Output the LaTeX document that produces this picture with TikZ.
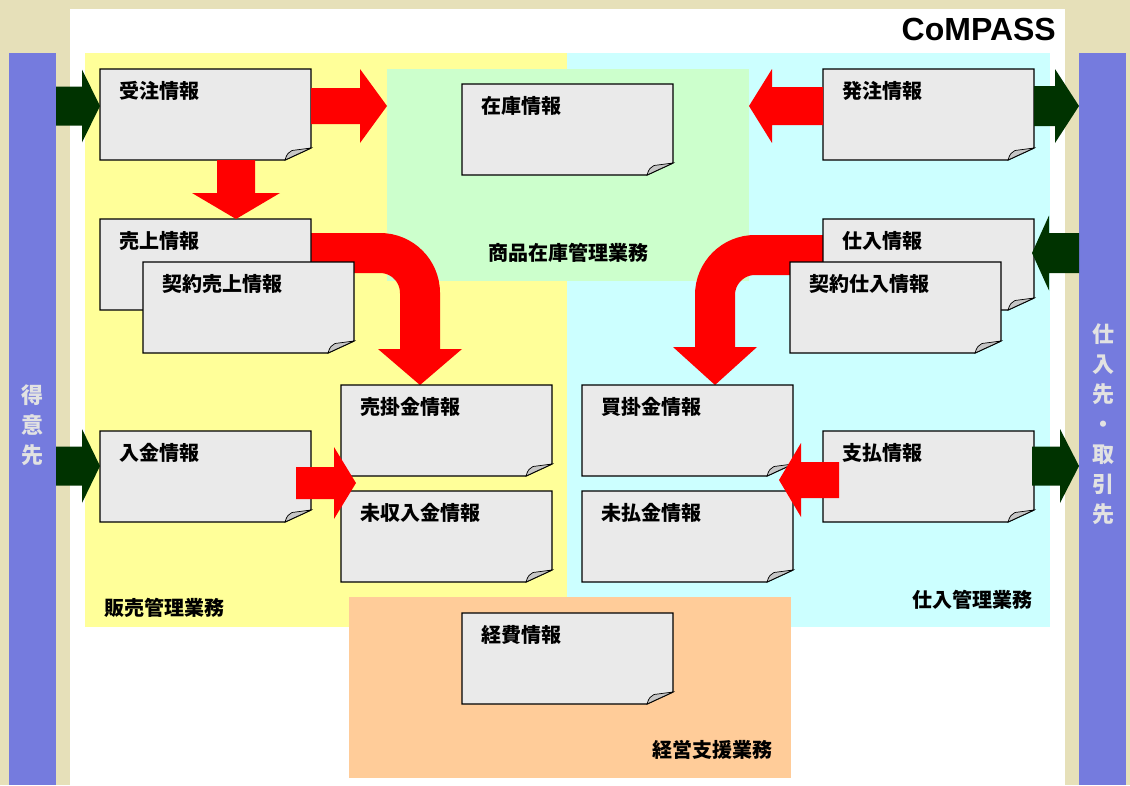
\documentclass[tikz,border=0pt]{standalone}
\usepackage{fontspec}
\setmainfont{Noto Sans CJK JP}
\newfontfamily\latinfont{Liberation Sans}
\usetikzlibrary{calc}

\definecolor{beige}{RGB}{230,224,185}
\definecolor{barblue}{RGB}{117,123,222}
\definecolor{sidegray}{RGB}{226,226,226}
\definecolor{salesyellow}{RGB}{255,255,153}
\definecolor{buycyan}{RGB}{204,255,255}
\definecolor{stockgreen}{RGB}{204,255,204}
\definecolor{mgmtorange}{RGB}{255,204,153}
\definecolor{docgray}{RGB}{234,234,234}
\definecolor{darkgreen}{RGB}{0,51,0}

\pgfdeclarelayer{areas}
\pgfdeclarelayer{flow}
\pgfsetlayers{areas,flow,main}

\tikzset{
  region/.style={anchor=north west, inner sep=0, outer sep=0},
  docbox/.style={anchor=north west, inner sep=0, outer sep=0, minimum width=211pt, minimum height=91pt},
  docline/.style={draw=black, line width=1.3pt},
  doclabel/.style={anchor=base west, inner sep=0, font=\fontsize{20}{24}\selectfont\bfseries},
  arealabel/.style={anchor=base west, inner sep=0, font=\fontsize{20}{24}\selectfont\bfseries},
  sidelabel/.style={inner sep=0, align=center, text=sidegray, font=\fontsize{22}{30}\selectfont\bfseries},
  curvearrow/.style={draw=red, line width=40pt, rounded corners=40pt},
}

% document with folded corner: name, x, y, text
\newcommand{\infodoc}[4]{%
  \node[docbox] (#1) at (#2,#3) {};
  \filldraw[docline, fill=docgray] (#1.north west) -- (#1.north east)
    -- ([yshift=12pt]#1.south east) -- ([xshift=-26pt]#1.south east)
    -- (#1.south west) -- cycle;
  \filldraw[draw=black, line width=0.7pt, fill=gray!45] ([xshift=-26pt]#1.south east)
    .. controls ([xshift=-24pt,yshift=6pt]#1.south east) .. ([xshift=-19pt,yshift=9.5pt]#1.south east)
    -- ([yshift=12pt]#1.south east) -- cycle;
  \node[doclabel] (#1 lbl) at ([xshift=19pt,yshift=-29pt]#1.north west) {#4};
}

% block arrow: colour, from, to, shaft half width, head half width, head length
\newcommand{\blockarrow}[6]{%
  \coordinate (hb) at ($(#3)!#6!(#2)$);
  \fill[#1] ($(#2)!#4!90:(#3)$) -- ($(hb)!#4!-90:(#2)$) -- ($(hb)!#5!-90:(#2)$)
    -- (#3) -- ($(hb)!#5!90:(#2)$) -- ($(hb)!#4!90:(#2)$) -- ($(#2)!#4!-90:(#3)$) -- cycle;
}

\begin{document}
\begin{tikzpicture}[x=1pt, y=-1pt]
\useasboundingbox (0,0) rectangle (1130,785);

\begin{pgfonlayer}{areas}
  \fill[beige] (0,0) rectangle (1130,785);
  \fill[white] (70,9) rectangle (1065,785);
  % partners
  \node[region, fill=barblue, minimum width=47pt, minimum height=732pt] (customer bar) at (9,53) {};
  \node[region, fill=barblue, minimum width=47pt, minimum height=732pt] (supplier bar) at (1079,53) {};
  % business areas
  \node[region, fill=salesyellow, minimum width=482pt, minimum height=574pt] (sales area) at (85,53) {};
  \node[region, fill=buycyan, minimum width=483pt, minimum height=574pt] (purchase area) at (567,53) {};
  \node[region, fill=stockgreen, minimum width=362pt, minimum height=212pt] (stock area) at (387,69) {};
  \node[region, fill=mgmtorange, minimum width=442pt, minimum height=181pt] (admin area) at (349,597) {};
\end{pgfonlayer}

\node[sidelabel] (customer lbl) at (32.5,425) {得\\意\\先};
\node[sidelabel] (supplier lbl) at (1103,424) {仕\\入\\先\\・\\取\\引\\先};
\node[anchor=base east, inner sep=0, font=\latinfont\bfseries\fontsize{32}{36}\selectfont] (compass) at (1056,40) {CoMPASS};

\node[arealabel] (sales lbl) at (104,615) {販売管理業務};
\node[arealabel] (purchase lbl) at (912,607) {仕入管理業務};
\node[arealabel] (stock lbl) at (488,260) {商品在庫管理業務};
\node[arealabel] (admin lbl) at (652,757) {経営支援業務};

% documents
\infodoc{order}{100}{69}{受注情報}
\infodoc{sales}{100}{219}{売上情報}
\infodoc{contract sales}{143}{262}{契約売上情報}
\infodoc{receipt}{100}{431}{入金情報}
\infodoc{receivable}{341}{385}{売掛金情報}
\infodoc{unreceived}{341}{491}{未収入金情報}
\infodoc{stock}{462}{84}{在庫情報}
\infodoc{purchase order}{823}{69}{発注情報}
\infodoc{purchase}{823}{219}{仕入情報}
\infodoc{contract purchase}{790}{262}{契約仕入情報}
\infodoc{payable}{582}{385}{買掛金情報}
\infodoc{unpaid}{582}{491}{未払金情報}
\infodoc{payment}{823}{431}{支払情報}
\infodoc{expense}{462}{613}{経費情報}

% curved flows behind the documents
\begin{pgfonlayer}{flow}
  \coordinate (c1e) at ($(receivable.north west)+(79,0)$);
  \draw[curvearrow] ($(sales.north east)+(0,34)$) -| ($(c1e)+(0,-34)$);
  \fill[red] ($(c1e)+(-42,-36)$) -- ($(c1e)+(42,-36)$) -- (c1e) -- cycle;
  \coordinate (c2e) at ($(payable.north west)+(133,0)$);
  \draw[curvearrow] ($(purchase.north west)+(0,36)$) -| ($(c2e)+(0,-36)$);
  \fill[red] ($(c2e)+(-42,-38)$) -- ($(c2e)+(42,-38)$) -- (c2e) -- cycle;
\end{pgfonlayer}

% red flows
\coordinate (a1s) at ($(order.north east)+(0,37)$);
\coordinate (a1e) at (stock area.west |- a1s);
\blockarrow{red}{a1s}{a1e}{18pt}{37pt}{27pt}
\coordinate (a2s) at ($(order.south west)+(136,0)$);
\coordinate (a2e) at (a2s |- sales.north);
\blockarrow{red}{a2s}{a2e}{19pt}{44pt}{26pt}
\coordinate (a3s) at ($(purchase order.north west)+(0,37)$);
\coordinate (a3e) at (stock area.east |- a3s);
\blockarrow{red}{a3s}{a3e}{19pt}{37pt}{23pt}
\coordinate (a4s) at ($(receipt.north east)+(-15,52)$);
\coordinate (a4e) at ($(unreceived.north west)+(15,-8)$);
\blockarrow{red}{a4s}{a4e}{16pt}{36pt}{22pt}
\coordinate (a5s) at ($(payment.north west)+(16,49)$);
\coordinate (a5e) at ($(unpaid.north east)+(-14,-11)$);
\blockarrow{red}{a5s}{a5e}{18pt}{37pt}{22pt}

% flows to and from partners
\coordinate (g1e) at ($(order.north west)+(0,37)$);
\coordinate (g1s) at (customer bar.east |- g1e);
\blockarrow{darkgreen}{g1s}{g1e}{19.5pt}{36.5pt}{18pt}
\coordinate (g2e) at ($(receipt.north west)+(0,35)$);
\coordinate (g2s) at (customer bar.east |- g2e);
\blockarrow{darkgreen}{g2s}{g2e}{19.5pt}{37pt}{18pt}
\coordinate (g3s) at ($(purchase order.north east)+(0,37)$);
\coordinate (g3e) at (supplier bar.west |- g3s);
\blockarrow{darkgreen}{g3s}{g3e}{20pt}{37pt}{24pt}
\coordinate (g4e) at ($(purchase.north east)+(-2,34)$);
\coordinate (g4s) at (supplier bar.west |- g4e);
\blockarrow{darkgreen}{g4s}{g4e}{20pt}{37.5pt}{17pt}
\coordinate (g5s) at ($(payment.north east)+(-2,35)$);
\coordinate (g5e) at (supplier bar.west |- g5s);
\blockarrow{darkgreen}{g5s}{g5e}{19.5pt}{37pt}{19pt}
\end{tikzpicture}
\end{document}
